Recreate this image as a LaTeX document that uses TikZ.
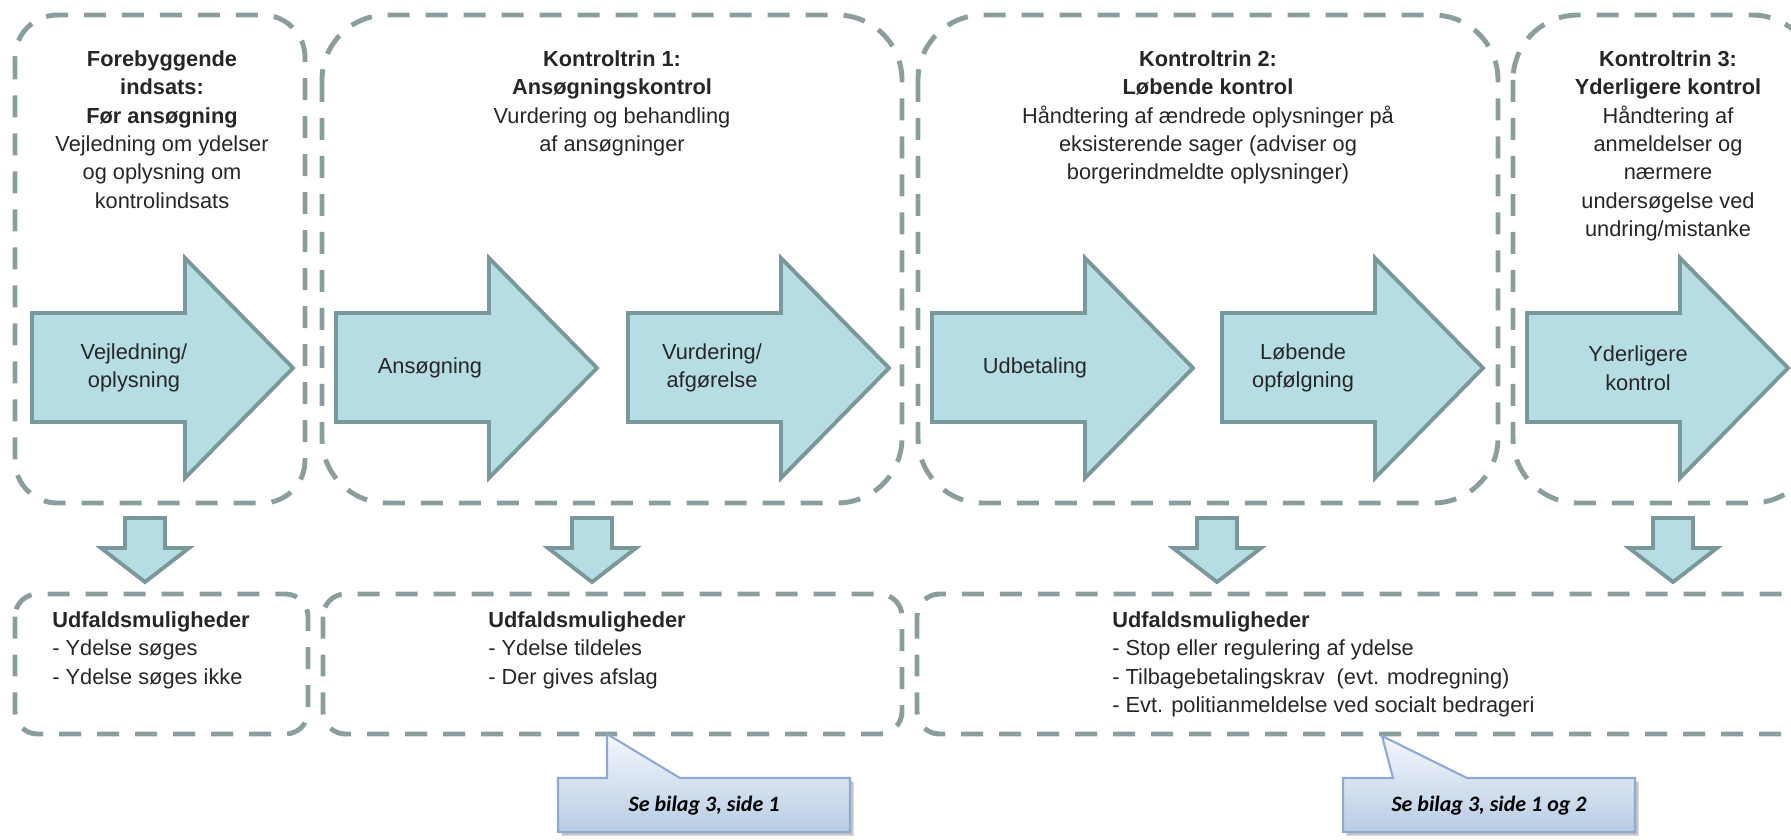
\documentclass[tikz,border=0pt]{standalone}
\usepackage{fontspec}
\setmainfont{Liberation Sans}
\newfontfamily\notefont{Carlito}
\usetikzlibrary{shadows}
\definecolor{dashgrey}{RGB}{138,158,158}
\definecolor{arrowfill}{RGB}{183,221,228}
\definecolor{arrowline}{RGB}{122,152,155}
\definecolor{notetop}{RGB}{244,247,252}
\definecolor{notebottom}{RGB}{184,204,228}
\definecolor{noteline}{RGB}{142,170,212}
\def\sidearrow(#1){\draw[arrowbody] (#1,313) -- (#1+153,313) -- (#1+153,258) -- (#1+261,368) -- (#1+153,478) -- (#1+153,422) -- (#1,422) -- cycle;}
\def\droparrow(#1){\draw[arrowbody] (#1-20,518) -- (#1+20,518) -- (#1+20,548) -- (#1+44,548) -- (#1,582) -- (#1-44,548) -- (#1-20,548) -- cycle;}
\tikzset{
	panel/.style={draw=dashgrey, line width=2.8pt, dash pattern=on 0.44cm off 0.32cm},
	arrowbody/.style={fill=arrowfill, draw=arrowline, line width=2.2pt},
	toptext/.style={anchor=north, inner sep=0pt, align=center, text=black!85, font=\fontsize{12.4}{16.2}\selectfont},
	arrowtext/.style={inner sep=0pt, align=center, text=black!85, font=\fontsize{12.4}{16.2}\selectfont},
	outtext/.style={anchor=north west, inner sep=0pt, align=left, text=black!85, font=\fontsize{12.4}{16.2}\selectfont},
	notebox/.style={draw=noteline, line width=1.2pt, top color=notetop, bottom color=notebottom, drop shadow={shadow xshift=2pt, shadow yshift=-2pt, opacity=0.45}},
	notetext/.style={inner sep=0pt, font=\notefont\bfseries\itshape\fontsize{12.5}{15}\selectfont}
}

\begin{document}
\begin{tikzpicture}[x=0.02cm, y=-0.02cm]
		%%%%% START %%%%%
		\useasboundingbox (0,0) rectangle (1791,839);
		\clip (0,0) rectangle (1791,839);
		
		\draw[panel, rounded corners=0.85cm] (15,15) rectangle (305,503);
		\draw[panel, rounded corners=1.3cm] (322,15) rectangle (902,503);
		\draw[panel, rounded corners=1.3cm] (918,15) rectangle (1498,503);
		\draw[panel, rounded corners=1.3cm] (1513,15) rectangle (1817,503);
		
		\node[toptext] (prevent) at (162,50) {\textbf{Forebyggende}\\\textbf{indsats:}\\\textbf{Før ansøgning}\\Vejledning om ydelser\\og oplysning om\\kontrolindsats};
		\node[toptext] (step1) at (612,50) {\textbf{Kontroltrin 1:}\\\textbf{Ansøgningskontrol}\\Vurdering og behandling\\af ansøgninger};
		\node[toptext] (step2) at (1208,50) {\textbf{Kontroltrin 2:}\\\textbf{Løbende kontrol}\\Håndtering af ændrede oplysninger på\\eksisterende sager (adviser og\\borgerindmeldte oplysninger)};
		\node[toptext] (step3) at (1668,50) {\textbf{Kontroltrin 3:}\\\textbf{Yderligere kontrol}\\Håndtering af\\anmeldelser og\\nærmere\\undersøgelse ved\\undring/mistanke};
		
		\sidearrow(32)
		\sidearrow(336)
		\sidearrow(628)
		\sidearrow(932)
		\sidearrow(1222)
		\sidearrow(1527)
		
		\node[arrowtext] (guide) at (134,368) {Vejledning/\\oplysning};
		\node[arrowtext] (apply) at (430,368) {Ansøgning};
		\node[arrowtext] (decide) at (712,368) {Vurdering/\\afgørelse};
		\node[arrowtext] (payout) at (1035,368) {Udbetaling};
		\node[arrowtext] (followup) at (1303,368) {Løbende\\opfølgning};
		\node[arrowtext] (further) at (1638,368) {Yderligere\\kontrol};
		
		\droparrow(145)
		\droparrow(592)
		\droparrow(1217)
		\droparrow(1673)
		
		\draw[panel, rounded corners=0.45cm] (15,594) rectangle (308,734);
		\draw[panel, rounded corners=0.45cm] (323,594) rectangle (902,734);
		\draw[panel, rounded corners=0.45cm] (917,594) rectangle (1805,734);
		
		\node[outtext] (out0) at (52,611) {\textbf{Udfaldsmuligheder}\\- Ydelse søges\\- Ydelse søges ikke};
		\node[outtext] (out1) at (488,611) {\textbf{Udfaldsmuligheder}\\- Ydelse tildeles\\- Der gives afslag};
		\node[outtext] (out2) at (1112,611) {\textbf{Udfaldsmuligheder}\\- Stop eller regulering af ydelse\\- Tilbagebetalingskrav~ (evt. modregning)\\- Evt. politianmeldelse ved socialt bedrageri};
		
		\draw[notebox] (558,778) -- (607,778) -- (607,734) -- (680,778) -- (850,778) -- (850,832) -- (558,832) -- cycle;
		\node[notetext] (see1) at (704,806) {Se bilag 3, side 1};
		
		\draw[notebox] (1343,778) -- (1393,778) -- (1382,736) -- (1467,778) -- (1635,778) -- (1635,832) -- (1343,832) -- cycle;
		\node[notetext] (see2) at (1489,806) {Se bilag 3, side 1 og 2};
		
		%%%%% END %%%%%
\end{tikzpicture}
\end{document}
